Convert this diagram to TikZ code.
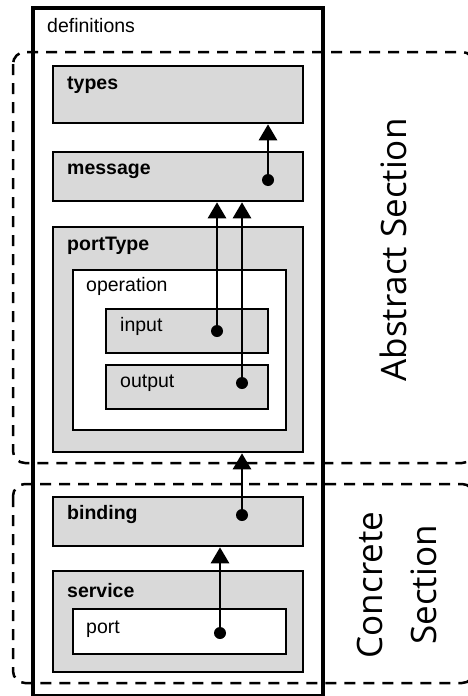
\documentclass[tikz,border=0pt]{standalone}
\usepackage{fontspec}
\setmainfont{Liberation Sans}
\newfontfamily\secfont{Open Sans}
\usetikzlibrary{arrows.meta}

\begin{document}
\begin{tikzpicture}[x=1pt,y=-1pt,
  part/.style={draw,line width=2.3pt,fill=black!15,anchor=north west,inner sep=0pt},
  hole/.style={draw,line width=2.3pt,fill=white,anchor=north west,inner sep=0pt},
  tag/.style={anchor=base west,inner sep=0pt,font=\fontsize{19.5}{22}\selectfont},
  btag/.style={tag,font=\fontsize{19.5}{22}\selectfont\bfseries},
  zone/.style={line width=2.5pt,dash pattern=on 11pt off 8pt,rounded corners=12pt},
  link/.style={line width=2.8pt,-{Triangle[length=16pt,width=18pt]}},
  sect/.style={rotate=90,font=\secfont\fontsize{35}{54}\selectfont}]
\useasboundingbox (0,0) rectangle (468,696);
\draw[zone] (13,52) rectangle (474,463);
\draw[zone] (13,484) rectangle (474,683);
\node[draw,line width=4pt,anchor=north west,inner sep=0pt,minimum width=290pt,minimum height=688pt] (defs) at (31,6) {};
\node[tag] at ([shift={(16,26)}]defs.north west) {definitions};
\node[part,minimum width=250pt,minimum height=57pt] (types) at (52,65) {};
\node[btag] at ([shift={(15,24)}]types.north west) {types};
\node[part,minimum width=250pt,minimum height=49pt] (message) at (52,151) {};
\node[btag] at ([shift={(15,23)}]message.north west) {message};
\node[part,minimum width=250pt,minimum height=225pt] (porttype) at (52,226) {};
\node[btag] at ([shift={(15,24)}]porttype.north west) {portType};
\node[hole,minimum width=213pt,minimum height=160pt] (operation) at (72,269) {};
\node[tag] at ([shift={(14,22)}]operation.north west) {operation};
\node[part,minimum width=162pt,minimum height=44pt] (input) at (105,308) {};
\node[tag] at ([shift={(15,23)}]input.north west) {input};
\node[part,minimum width=162pt,minimum height=44pt] (output) at (105,364) {};
\node[tag] at ([shift={(15,23)}]output.north west) {output};
\node[part,minimum width=250pt,minimum height=49pt] (binding) at (52,496) {};
\node[btag] at ([shift={(15,23)}]binding.north west) {binding};
\node[part,minimum width=250pt,minimum height=101pt] (service) at (52,570) {};
\node[btag] at ([shift={(15,27)}]service.north west) {service};
\node[hole,minimum width=213pt,minimum height=45pt] (port) at (72,608) {};
\node[tag] at ([shift={(14,25)}]port.north west) {port};
\coordinate (msgdot) at (268,180);
\coordinate (indot) at (217,331);
\coordinate (outdot) at (242,383);
\coordinate (binddot) at (242,515);
\coordinate (portdot) at (220,633);
\foreach \d in {msgdot,indot,outdot,binddot,portdot}
  \fill (\d) circle[radius=6];
\draw[link] (msgdot) -- (msgdot |- types.south);
\draw[link] (indot) -- (indot |- message.south);
\draw[link] (outdot) -- (outdot |- message.south);
\draw[link] (binddot) -- (binddot |- porttype.south);
\draw[link] (portdot) -- (portdot |- binding.south);
\node[sect] (abstract) at (393.5,250) {Abstract Section};
\node[sect,align=center] (concrete) at (397,585) {Concrete\\Section};
\end{tikzpicture}
\end{document}
